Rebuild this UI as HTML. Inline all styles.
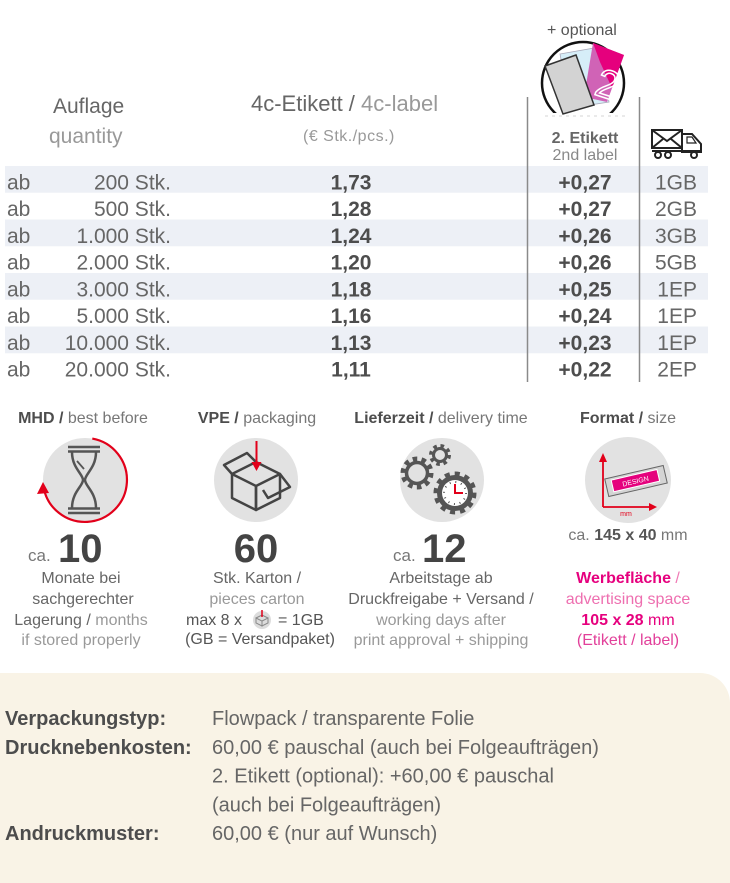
<!DOCTYPE html>
<html><head><meta charset="utf-8"><style>
html,body{margin:0;padding:0;background:#fff;}
svg{display:block;}
text{font-family:"Liberation Sans",sans-serif;}
</style></head><body>
<svg width="730" height="883" viewBox="0 0 730 883" xmlns="http://www.w3.org/2000/svg">
<rect width="730" height="883" fill="#fff"/>
<!-- row bands -->
<rect x="5" y="166" width="703" height="26.75" fill="#edf0f6"/>
<rect x="5" y="219.5" width="703" height="26.75" fill="#edf0f6"/>
<rect x="5" y="273" width="703" height="26.75" fill="#edf0f6"/>
<rect x="5" y="326.5" width="703" height="26.75" fill="#edf0f6"/>
<!-- vertical lines -->
<line x1="527.5" y1="97" x2="527.5" y2="382" stroke="#8a8a8a" stroke-width="1.5"/>
<line x1="639.5" y1="97" x2="639.5" y2="382" stroke="#8a8a8a" stroke-width="1.5"/>

<!-- headers -->
<text x="53" y="113" font-size="21" fill="#666">Auflage</text>
<text x="49" y="143" font-size="21" fill="#999">quantity</text>
<text x="251" y="111" font-size="22" fill="#666">4c-Etikett / <tspan fill="#999">4c-label</tspan></text>
<text x="303" y="141" font-size="16" fill="#999" letter-spacing="0.5">(€ Stk./pcs.)</text>
<text x="547" y="35" font-size="16" fill="#555">+ optional</text>
<text x="585" y="143" font-size="16" font-weight="bold" fill="#666" text-anchor="middle">2. Etikett</text>
<text x="585" y="160" font-size="16" fill="#888" text-anchor="middle">2nd label</text>

<!-- optional icon -->
<clipPath id="cc"><rect x="530" y="30" width="110" height="83"/></clipPath>
<g clip-path="url(#cc)"><circle cx="583" cy="83" r="41" fill="#fff" stroke="#111" stroke-width="2.5"/></g>
<line x1="545" y1="116" x2="625" y2="116" stroke="#ddd" stroke-width="1.2" stroke-dasharray="3 4"/>
<polygon points="560,54 600,47 609,102 570,108" fill="#d6eef8" stroke="#aab" stroke-width="0.8"/>
<polygon points="593,43 624,55 607,102 584,97" fill="#d063b6"/>
<polygon points="593,43 624,55 612,88 600,62" fill="#e5007d"/>
<text x="0" y="0" font-size="40" fill="none" stroke="#fff" stroke-width="1.5" transform="translate(593,94) rotate(18)">2</text>
<polygon points="545,66 576,55 594,105 563,114" fill="#d3d3d3" stroke="#333" stroke-width="1.5"/>

<!-- truck icon -->
<g stroke="#222" stroke-width="2" fill="#fff">
<rect x="652" y="130" width="30" height="18"/>
<polyline points="652,130 667,141 682,130" fill="none"/>
<polyline points="652,148 663,139" fill="none"/>
<polyline points="682,148 671,139" fill="none"/>
<path d="M682 134 L692 134 L701 144 L701 152 L682 152 Z"/>
<path d="M687 137 L692 137 L696 143 L687 143 Z" fill="none" stroke-width="1.2"/>
<line x1="652" y1="151" x2="701" y2="151"/>
<circle cx="658" cy="155" r="3"/>
<circle cx="668" cy="155" r="3"/>
<circle cx="694" cy="155" r="3"/>
</g>

<!-- rows -->
<g font-size="21" fill="#666">
<text x="7" y="189.3">ab</text><text x="171" y="189.3" text-anchor="end">200 Stk.</text>
<text x="7" y="216">ab</text><text x="171" y="216" text-anchor="end">500 Stk.</text>
<text x="7" y="242.8">ab</text><text x="171" y="242.8" text-anchor="end">1.000 Stk.</text>
<text x="7" y="269.5">ab</text><text x="171" y="269.5" text-anchor="end">2.000 Stk.</text>
<text x="7" y="296.3">ab</text><text x="171" y="296.3" text-anchor="end">3.000 Stk.</text>
<text x="7" y="323">ab</text><text x="171" y="323" text-anchor="end">5.000 Stk.</text>
<text x="7" y="349.8">ab</text><text x="171" y="349.8" text-anchor="end">10.000 Stk.</text>
<text x="7" y="376.5">ab</text><text x="171" y="376.5" text-anchor="end">20.000 Stk.</text>
</g>
<g font-size="21" font-weight="bold" fill="#4d4d4d" text-anchor="middle">
<text x="351" y="189.3">1,73</text><text x="585" y="189.3">+0,27</text>
<text x="351" y="216">1,28</text><text x="585" y="216">+0,27</text>
<text x="351" y="242.8">1,24</text><text x="585" y="242.8">+0,26</text>
<text x="351" y="269.5">1,20</text><text x="585" y="269.5">+0,26</text>
<text x="351" y="296.3">1,18</text><text x="585" y="296.3">+0,25</text>
<text x="351" y="323">1,16</text><text x="585" y="323">+0,24</text>
<text x="351" y="349.8">1,13</text><text x="585" y="349.8">+0,23</text>
<text x="351" y="376.5">1,11</text><text x="585" y="376.5">+0,22</text>
</g>
<g font-size="21" fill="#666" text-anchor="end">
<text x="697" y="189.3">1GB</text>
<text x="697" y="216">2GB</text>
<text x="697" y="242.8">3GB</text>
<text x="697" y="269.5">5GB</text>
<text x="697" y="296.3">1EP</text>
<text x="697" y="323">1EP</text>
<text x="697" y="349.8">1EP</text>
<text x="697" y="376.5">2EP</text>
</g>

<!-- icon section headers -->
<g font-size="16" text-anchor="middle">
<text x="83" y="423" fill="#4d4d4d"><tspan font-weight="bold">MHD /</tspan><tspan fill="#777"> best before</tspan></text>
<text x="257" y="423" fill="#4d4d4d"><tspan font-weight="bold">VPE /</tspan><tspan fill="#777"> packaging</tspan></text>
<text x="441" y="423" fill="#4d4d4d"><tspan font-weight="bold">Lieferzeit /</tspan><tspan fill="#777"> delivery time</tspan></text>
<text x="628" y="423" fill="#4d4d4d"><tspan font-weight="bold">Format /</tspan><tspan fill="#777"> size</tspan></text>
</g>

<!-- circles -->
<circle cx="85" cy="480" r="42" fill="#e2e2e2"/>
<circle cx="256" cy="480" r="42" fill="#e2e2e2"/>
<circle cx="442" cy="480" r="42" fill="#e2e2e2"/>
<circle cx="628" cy="480" r="43" fill="#e2e2e2"/>

<!-- hourglass -->
<path d="M92.3 438.6 A42 42 0 1 1 43.6 487.3" fill="none" stroke="#e2001a" stroke-width="2.2"/>
<polygon points="43,482 37,494 49,493" fill="#e2001a"/>
<g stroke="#555" stroke-width="2.5" fill="none">
<line x1="68" y1="447" x2="100" y2="447"/><line x1="68" y1="451.5" x2="100" y2="451.5"/>
<line x1="68" y1="508.5" x2="100" y2="508.5"/><line x1="68" y1="513" x2="100" y2="513"/>
<path d="M72 452 C72 468 83 474 83 480 C83 486 72 492 72 508"/>
<path d="M96 452 C96 468 85 474 85 480 C85 486 96 492 96 508"/>
<line x1="77" y1="461" x2="84" y2="469" stroke-width="1.8"/>
</g>

<!-- box -->
<g stroke="#444" stroke-width="2.5" fill="none" stroke-linejoin="round">
<polygon points="232,474 256,486 256,510 232,498"/>
<polygon points="256,486 280,474 280,498 256,510"/>
<polyline points="232,474 256,462 280,474"/>
<polyline points="232,474 224,465 247,453 256,462"/>
<polyline points="280,474 290,487 268,498 263,490"/>
</g>
<line x1="256.5" y1="441" x2="256.5" y2="464" stroke="#e2001a" stroke-width="2"/>
<polygon points="251.5,462 261.5,462 256.5,471" fill="#e2001a"/>

<!-- gears -->
<g fill="none" stroke="#555">
<circle cx="440" cy="455" r="6.5" stroke-width="3"/>
<circle cx="440" cy="455" r="9" stroke-width="4" stroke-dasharray="3.5 3.6"/>
<circle cx="417" cy="473" r="10.5" stroke-width="3.5"/>
<circle cx="417" cy="473" r="14" stroke-width="5" stroke-dasharray="4.5 4.3"/>
<circle cx="455" cy="493" r="19" stroke-width="5" stroke-dasharray="5 4.9"/>
</g>
<circle cx="455" cy="493" r="18" fill="#555"/>
<circle cx="455" cy="493" r="13" fill="#fff"/>
<circle cx="455" cy="493" r="11" fill="none" stroke="#555" stroke-width="2" stroke-dasharray="1 4.76"/>
<polyline points="455,484 455,493 463,493" fill="none" stroke="#e2001a" stroke-width="2"/>

<!-- format -->
<g transform="rotate(-13 636 481)">
<rect x="606" y="472" width="60" height="18" fill="#d4d4d4" stroke="#666" stroke-width="1"/>
<rect x="612" y="474.5" width="47" height="12" fill="#e5007d" stroke="#fff" stroke-width="1"/>
<text x="635.5" y="483.5" font-size="7" fill="#fff" text-anchor="middle">DESIGN</text>
</g>
<g stroke="#e2001a" stroke-width="1.8" fill="none">
<line x1="603" y1="460" x2="603" y2="507"/>
<line x1="603" y1="507" x2="651" y2="507"/>
</g>
<polygon points="599,462 607,462 603,453" fill="#e2001a"/>
<polygon points="649,503 649,511 657,507" fill="#e2001a"/>
<text x="626" y="516" font-size="7" fill="#e2001a" text-anchor="middle">mm</text>

<!-- numbers -->
<text x="28" y="561" font-size="17" fill="#777">ca.</text>
<text x="58" y="562" font-size="40" font-weight="bold" fill="#444">10</text>
<text x="256" y="562" font-size="40" font-weight="bold" fill="#444" text-anchor="middle">60</text>
<text x="393" y="561" font-size="17" fill="#777">ca.</text>
<text x="422" y="562" font-size="40" font-weight="bold" fill="#444">12</text>

<!-- col texts -->
<g font-size="16" text-anchor="middle">
<text x="81" y="583" fill="#666">Monate bei</text>
<text x="83" y="604" fill="#666">sachgerechter</text>
<text x="81" y="625" fill="#666">Lagerung / <tspan fill="#999">months</tspan></text>
<text x="81" y="645" fill="#999">if stored properly</text>

<text x="257" y="583" fill="#666">Stk. Karton /</text>
<text x="257" y="604" fill="#999">pieces carton</text>
<text x="260" y="644" fill="#555">(GB = Versandpaket)</text>

<text x="441" y="583" fill="#666">Arbeitstage ab</text>
<text x="441" y="604" fill="#666">Druckfreigabe + Versand /</text>
<text x="441" y="625" fill="#999">working days after</text>
<text x="441" y="645" fill="#999">print approval + shipping</text>

<text x="628" y="540" fill="#777">ca. <tspan font-weight="bold" fill="#555">145 x 40</tspan> mm</text>
<text x="628" y="583" fill="#e6007e"><tspan font-weight="bold">Werbefläche</tspan><tspan fill="#f07ab5"> /</tspan></text>
<text x="628" y="604" fill="#ee6fb0">advertising space</text>
<text x="628" y="625" fill="#e6007e"><tspan font-weight="bold">105 x 28</tspan> mm</text>
<text x="628" y="645" fill="#e2409a">(Etikett / label)</text>
</g>
<text x="242" y="625" font-size="16" fill="#555" text-anchor="end">max 8 x</text>
<circle cx="262" cy="620" r="9" fill="#dcdcdc"/>
<g stroke="#888" stroke-width="1" fill="none">
<polygon points="256,618 262,621 262,626 256,623"/>
<polygon points="262,621 268,618 268,623 262,626"/>
<polyline points="256,618 262,615 268,618"/>
</g>
<line x1="262" y1="610" x2="262" y2="617" stroke="#e2001a" stroke-width="1.5"/>
<text x="278" y="625" font-size="16" fill="#555">= 1GB</text>

<!-- bottom box -->
<path d="M0 673 L700 673 A30 30 0 0 1 730 703 L730 883 L0 883 Z" fill="#f9f3e6"/>
<g font-size="20">
<text x="5" y="725" font-weight="bold" fill="#4d4d4d">Verpackungstyp:</text>
<text x="212" y="725" fill="#666">Flowpack / transparente Folie</text>
<text x="5" y="753.8" font-weight="bold" fill="#4d4d4d">Drucknebenkosten:</text>
<text x="212" y="753.8" fill="#666">60,00 € pauschal (auch bei Folgeaufträgen)</text>
<text x="212" y="782.6" fill="#666">2. Etikett (optional): +60,00 € pauschal</text>
<text x="212" y="811.4" fill="#666">(auch bei Folgeaufträgen)</text>
<text x="5" y="840.2" font-weight="bold" fill="#4d4d4d">Andruckmuster:</text>
<text x="212" y="840.2" fill="#666">60,00 € (nur auf Wunsch)</text>
</g>
</svg>
</body></html>
